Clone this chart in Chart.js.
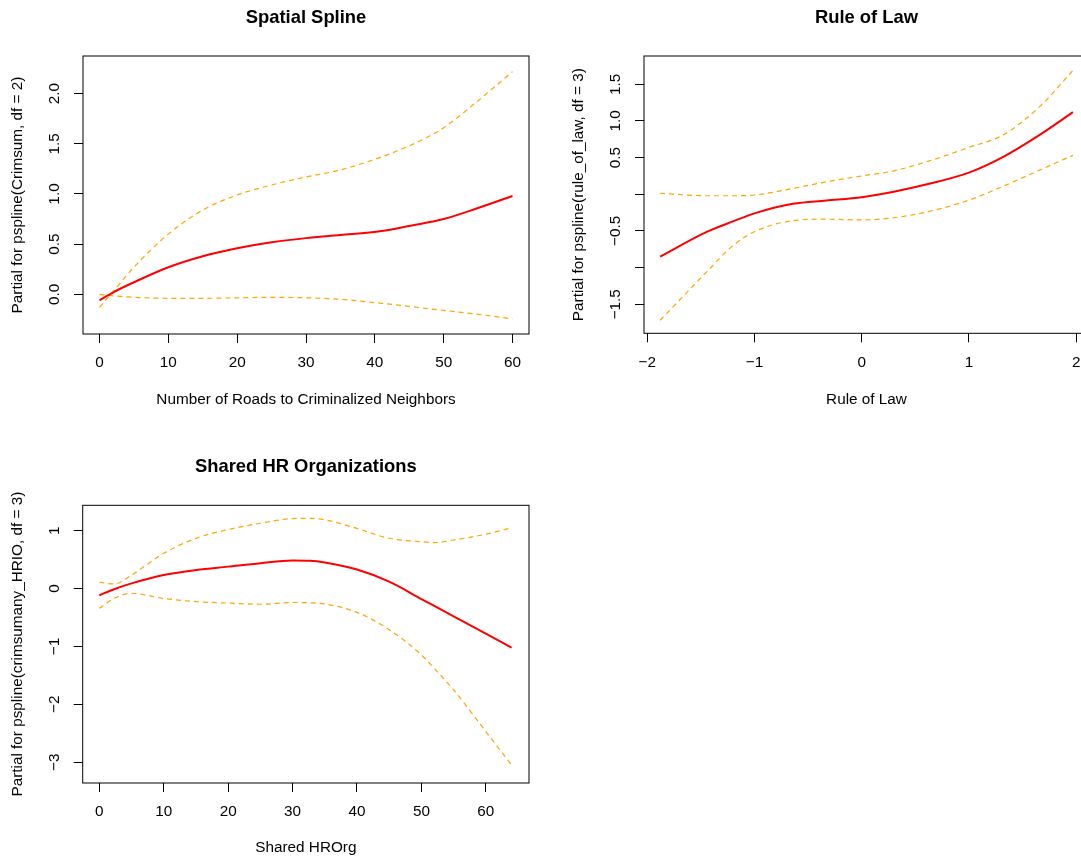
<!DOCTYPE html>
<html>
<head>
<meta charset="utf-8">
<script src="https://cdn.jsdelivr.net/npm/chart.js@4.4.1/dist/chart.umd.min.js"></script>
<style>
  html, body { margin: 0; padding: 0; background: #fff; overflow: hidden; }
  body { width: 1081px; height: 858px; position: relative; }
  canvas { position: absolute; }
</style>
</head>
<body>
<canvas id="spatial" width="540" height="430" style="left:0px;top:0px"></canvas>
<canvas id="law" width="540" height="430" style="left:560px;top:0px"></canvas>
<canvas id="hrorg" width="540" height="430" style="left:0px;top:450px"></canvas>
<script>
// Spatial spline: roads to criminalized neighbours
const roadsX     = [0, 2, 5, 10, 15, 20, 25, 30, 35, 41, 45, 48, 50, 55, 60];
const roadsFit   = [-0.06, 0.02, 0.12, 0.27, 0.38, 0.46, 0.52, 0.56, 0.59, 0.63, 0.68, 0.72, 0.75, 0.86, 0.98];
const roadsUpper = [-0.13, 0.03, 0.27, 0.60, 0.84, 0.99, 1.09, 1.17, 1.24, 1.37, 1.48, 1.58, 1.66, 1.93, 2.22];
const roadsLower = [0.0, -0.015, -0.03, -0.04, -0.04, -0.035, -0.03, -0.035, -0.05, -0.09, -0.12, -0.145, -0.16, -0.2, -0.245];
const roadsXTicks = [0, 10, 20, 30, 40, 50, 60];
const roadsYTicks = [0, 0.5, 1, 1.5, 2];
const roadsYLabels = ['0.0', '0.5', '1.0', '1.5', '2.0'];

// Rule of law
const lawX     = [-1.88, -1.44, -1.2, -1.0, -0.64, -0.33, 0, 0.30, 0.61, 1.0, 1.32, 1.66, 1.97];
const lawFit   = [-0.85, -0.51, -0.37, -0.26, -0.13, -0.086, -0.04, 0.036, 0.136, 0.295, 0.51, 0.81, 1.12];
const lawUpper = [0.014, -0.02, -0.02, -0.01, 0.08, 0.17, 0.25, 0.32, 0.445, 0.64, 0.81, 1.195, 1.69];
const lawLower = [-1.72, -1.05, -0.70, -0.51, -0.36, -0.34, -0.35, -0.32, -0.24, -0.08, 0.11, 0.33, 0.53];
const lawXTicks = [-2, -1, 0, 1, 2];
const lawYTicks = [-1.5, -1, -0.5, 0, 0.5, 1, 1.5];
const lawYLabels = ['\u22121.5', '', '\u22120.5', '', '0.5', '1.0', '1.5'];

// Shared HR organizations
const hrX     = [0, 2.3, 5, 10, 15, 20, 25, 30, 32.7, 35, 40, 45, 50, 52, 55, 60, 64];
const hrFit   = [-0.115, -0.01, 0.09, 0.235, 0.32, 0.38, 0.44, 0.485, 0.48, 0.45, 0.33, 0.12, -0.18, -0.30, -0.48, -0.78, -1.02];
const hrUpper = [0.11, 0.08, 0.235, 0.61, 0.87, 1.02, 1.13, 1.21, 1.215, 1.19, 1.04, 0.87, 0.81, 0.795, 0.84, 0.94, 1.05];
const hrLower = [-0.34, -0.17, -0.08, -0.17, -0.225, -0.25, -0.27, -0.24, -0.245, -0.265, -0.41, -0.71, -1.145, -1.38, -1.75, -2.47, -3.05];
const hrXTicks = [0, 10, 20, 30, 40, 50, 60];
const hrYTicks = [-3, -2, -1, 0, 1];
const hrYLabels = ['\u22123', '\u22122', '\u22121', '0', '1'];

const FONT = "'Liberation Sans', Arial, Helvetica, sans-serif";

function points(xs, ys) {
  return xs.map((x, i) => ({ x: x, y: ys[i] }));
}

function minus(v) {
  return String(v).replace('-', '\u2212');
}

// frame around the plot region plus the bold panel title
const boxAndTitle = {
  id: 'boxAndTitle',
  afterDraw(chart, args, opts) {
    const { ctx, chartArea: a } = chart;
    ctx.save();
    ctx.strokeStyle = '#000';
    ctx.lineWidth = 1;
    ctx.strokeRect(a.left, a.top, a.right - a.left, a.bottom - a.top);
    ctx.font = 'bold 18.4px ' + FONT;
    ctx.fillStyle = '#000';
    ctx.textAlign = 'center';
    ctx.textBaseline = 'middle';
    ctx.fillText(opts.text, (a.left + a.right) / 2, opts.y);
    ctx.restore();
  }
};

function makePanel(id, p) {
  const tickFont = { family: FONT, size: 15.3 };
  return new Chart(document.getElementById(id), {
    type: 'line',
    data: {
      datasets: [
        { data: points(p.x, p.fit), borderColor: '#ff0000', borderWidth: 2 },
        { data: points(p.x, p.upper), borderColor: '#ffa500', borderWidth: 1.2, borderDash: [5, 4] },
        { data: points(p.x, p.lower), borderColor: '#ffa500', borderWidth: 1.2, borderDash: [5, 4] }
      ]
    },
    options: {
      responsive: false,
      animation: false,
      elements: {
        point: { radius: 0 },
        line: { cubicInterpolationMode: 'monotone', fill: false }
      },
      layout: { padding: { top: p.top, right: 11, left: 0, bottom: 0 } },
      plugins: {
        legend: { display: false },
        tooltip: { enabled: false },
        boxAndTitle: { text: p.title, y: p.titleY }
      },
      scales: {
        x: {
          type: 'linear',
          min: p.xMin,
          max: p.xMax,
          afterBuildTicks: s => { s.ticks = p.xTicks.map(v => ({ value: v })); },
          afterFit: s => { s.height = p.xAxisH; s.paddingLeft = 0; s.paddingRight = 0; },
          grid: { drawOnChartArea: false, tickLength: 9, tickColor: '#000', color: '#000' },
          border: { display: false },
          ticks: { color: '#000', font: tickFont, padding: 11, maxRotation: 0, autoSkip: false, callback: v => minus(v) },
          title: { display: true, text: p.xTitle, color: '#000', font: tickFont, padding: { top: 0, bottom: p.xTitlePad } }
        },
        y: {
          type: 'linear',
          min: p.yMin,
          max: p.yMax,
          afterBuildTicks: s => { s.ticks = p.yTicks.map(v => ({ value: v })); },
          afterFit: s => { s.width = p.yAxisW; s.paddingTop = 0; s.paddingBottom = 0; },
          grid: { drawOnChartArea: false, tickLength: 9, tickColor: '#000', color: '#000' },
          border: { display: false },
          ticks: {
            color: '#000', font: tickFont, padding: p.yLabelPad, minRotation: 90, maxRotation: 90,
            crossAlign: 'center', autoSkip: false, callback: (v, i) => p.yLabels[i]
          },
          title: { display: true, text: p.yTitle, color: '#000', font: tickFont, padding: { top: p.yTitlePad, bottom: 0 } }
        }
      }
    },
    plugins: [boxAndTitle]
  });
}

makePanel('spatial', {
  title: 'Spatial Spline', titleY: 18, top: 56,
  x: roadsX, fit: roadsFit, upper: roadsUpper, lower: roadsLower,
  xMin: -2.4, xMax: 62.4, yMin: -0.396, yMax: 2.376,
  xTicks: roadsXTicks, yTicks: roadsYTicks, yLabels: roadsYLabels,
  xAxisH: 96, yAxisW: 83, yLabelPad: 8.4, xTitlePad: 20.8, yTitlePad: 8.8,
  xTitle: 'Number of Roads to Criminalized Neighbors',
  yTitle: 'Partial for pspline(Crimsum, df = 2)'
});

makePanel('law', {
  title: 'Rule of Law', titleY: 18, top: 56,
  x: lawX, fit: lawFit, upper: lawUpper, lower: lawLower,
  xMin: -2.03, xMax: 2.12, yMin: -1.896, yMax: 1.886,
  xTicks: lawXTicks, yTicks: lawYTicks, yLabels: lawYLabels,
  xAxisH: 96.7, yAxisW: 84, yLabelPad: 4, xTitlePad: 20.8, yTitlePad: 9.8,
  xTitle: 'Rule of Law',
  yTitle: 'Partial for pspline(rule_of_law, df = 3)'
});

makePanel('hrorg', {
  title: 'Shared HR Organizations', titleY: 17, top: 55.3,
  x: hrX, fit: hrFit, upper: hrUpper, lower: hrLower,
  xMin: -2.58, xMax: 66.7, yMin: -3.36, yMax: 1.44,
  xTicks: hrXTicks, yTicks: hrYTicks, yLabels: hrYLabels,
  xAxisH: 97, yAxisW: 82.7, yLabelPad: 10, xTitlePad: 22.8, yTitlePad: 8.8,
  xTitle: 'Shared HROrg',
  yTitle: 'Partial for pspline(crimsumany_HRIO, df = 3)'
});
</script>
</body>
</html>
